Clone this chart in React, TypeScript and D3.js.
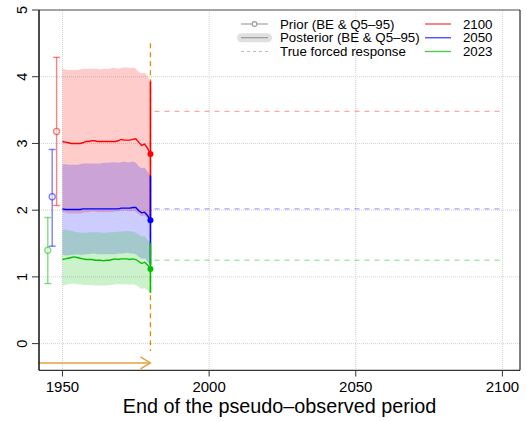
import React from 'react'
import * as d3 from 'd3'

// pseudo-observation end years
const years = [1950, 1951, 1952, 1953, 1954, 1955, 1956, 1957, 1958, 1959, 1960, 1961, 1962, 1963, 1964, 1965,
  1966, 1967, 1968, 1969, 1970, 1971, 1972, 1973, 1974, 1975, 1976, 1977, 1978, 1979, 1980]

const red_mid = [3.03, 3.02, 3.01, 3.00, 3.00, 3.00, 3.00, 3.01, 3.03, 3.03, 3.04, 3.04, 3.03, 3.03, 3.03, 3.03,
  3.03, 3.03, 3.03, 3.04, 3.06, 3.05, 3.05, 3.05, 3.06, 3.07, 3.02, 2.97, 2.99, 2.93, 2.84]
const red_hi = [4.12, 4.11, 4.10, 4.10, 4.10, 4.10, 4.11, 4.12, 4.12, 4.12, 4.12, 4.12, 4.12, 4.11, 4.12, 4.12,
  4.12, 4.13, 4.13, 4.12, 4.13, 4.14, 4.14, 4.13, 4.14, 4.12, 4.07, 4.05, 4.06, 4.01, 3.93]
const red_lo = [1.97, 1.96, 1.95, 1.95, 1.95, 1.95, 1.95, 1.96, 1.97, 1.97, 1.98, 1.98, 1.97, 1.97, 1.97, 1.97,
  1.97, 1.97, 1.98, 1.98, 1.99, 1.99, 1.99, 1.98, 1.99, 1.98, 1.94, 1.91, 1.92, 1.87, 1.80]

const blue_mid = [2.02, 2.01, 2.01, 2.01, 2.01, 2.01, 2.01, 2.02, 2.02, 2.02, 2.02, 2.02, 2.02, 2.02, 2.02, 2.02,
  2.02, 2.02, 2.02, 2.02, 2.03, 2.03, 2.03, 2.03, 2.04, 2.04, 1.99, 1.96, 1.97, 1.92, 1.85]
const blue_hi = [2.69, 2.69, 2.68, 2.68, 2.68, 2.68, 2.69, 2.70, 2.70, 2.70, 2.70, 2.70, 2.70, 2.70, 2.71, 2.71,
  2.71, 2.72, 2.72, 2.71, 2.72, 2.73, 2.72, 2.72, 2.73, 2.71, 2.66, 2.63, 2.64, 2.58, 2.52]
const blue_lo = [1.33, 1.32, 1.32, 1.33, 1.33, 1.34, 1.33, 1.33, 1.34, 1.34, 1.35, 1.35, 1.34, 1.34, 1.34, 1.34,
  1.34, 1.34, 1.34, 1.35, 1.35, 1.35, 1.36, 1.35, 1.35, 1.34, 1.30, 1.27, 1.28, 1.24, 1.18]

const green_mid = [1.26, 1.27, 1.28, 1.29, 1.30, 1.29, 1.28, 1.27, 1.26, 1.26, 1.26, 1.25, 1.25, 1.25, 1.24, 1.25,
  1.25, 1.26, 1.27, 1.26, 1.27, 1.27, 1.27, 1.26, 1.27, 1.26, 1.23, 1.20, 1.22, 1.18, 1.12]
const green_hi = [1.70, 1.71, 1.70, 1.69, 1.68, 1.67, 1.66, 1.66, 1.66, 1.67, 1.67, 1.67, 1.67, 1.66, 1.66, 1.66,
  1.67, 1.67, 1.67, 1.68, 1.68, 1.68, 1.69, 1.68, 1.68, 1.66, 1.63, 1.60, 1.61, 1.56, 1.51]
const green_lo = [0.87, 0.88, 0.89, 0.90, 0.90, 0.89, 0.89, 0.88, 0.88, 0.88, 0.88, 0.87, 0.87, 0.87, 0.87, 0.87,
  0.88, 0.88, 0.89, 0.89, 0.89, 0.89, 0.89, 0.88, 0.89, 0.88, 0.85, 0.82, 0.83, 0.80, 0.76]

// prior: [x position, best estimate, q5, q95]
const priorYears = [1948, 1946.5, 1945]
const prior_be = [3.18, 2.20, 1.40]
const prior_lo = [2.07, 1.46, 0.90]
const prior_hi = [4.29, 2.91, 1.89]

const trueResp = [3.48, 2.02, 1.25]
const horizons = ['2100', '2050', '2023']
const colors = ['#ff0000', '#0000ff', '#00c000']

const xTicks = [1950, 2000, 2050, 2100]
const yTicks = [0, 1, 2, 3, 4, 5]
const obsEnd = 1980
const obsStart = 1942

const W = 527, H = 421
const font = 'Liberation Sans, Arial, Helvetica, sans-serif'

const App = () => {
  const x = d3.scaleLinear().domain([1942, 2106]).range([39, 520])
  const y = d3.scaleLinear().domain([-0.4, 5]).range([370.3, 10])

  const series = [
    { mid: red_mid, hi: red_hi, lo: red_lo },
    { mid: blue_mid, hi: blue_hi, lo: blue_lo },
    { mid: green_mid, hi: green_hi, lo: green_lo },
  ]

  const area = (hi, lo) => d3.area<number>()
    .x(d => x(d))
    .y0((d, i) => y(lo[i]))
    .y1((d, i) => y(hi[i]))(years)
  const line = vals => d3.line<number>()
    .x(d => x(d))
    .y((d, i) => y(vals[i]))(years)

  const last = years.length - 1
  const xe = x(obsEnd)
  const ay = y(-0.29)

  return (
    <svg width={W} height={H} style={{ position: 'absolute', left: 0, top: 0, background: '#fff' }}
      fontFamily={font}>
      {/* grid */}
      {yTicks.map(t => (
        <line key={'gy' + t} x1={39} x2={520} y1={y(t)} y2={y(t)} stroke="#d3d3d3" strokeDasharray="1,1" />
      ))}
      {xTicks.map(t => (
        <line key={'gx' + t} x1={x(t)} x2={x(t)} y1={10} y2={370} stroke="#d3d3d3" strokeDasharray="1,1" />
      ))}

      {/* posterior ribbons */}
      {series.map((s, i) => (
        <path key={'rib' + i} d={area(s.hi, s.lo)} fill={colors[i]} fillOpacity={0.2} />
      ))}

      {/* true forced response */}
      {trueResp.map((v, i) => (
        <line key={'tr' + i} x1={xe + 4} x2={x(2100)} y1={y(v)} y2={y(v)} stroke={colors[i]}
          strokeOpacity={0.35} strokeWidth={1.4} strokeDasharray="5,5" />
      ))}

      {/* observation period marker */}
      <line x1={xe} x2={xe} y1={y(4.5)} y2={y(-0.11)} stroke="#e08a00" strokeWidth={1.3} strokeDasharray="5,4" />
      <line x1={x(obsStart)} x2={xe} y1={ay} y2={ay} stroke="#e6a040" strokeWidth={1.4} />
      <polyline points={`${xe - 10},${ay - 6} ${xe},${ay} ${xe - 10},${ay + 6}`} fill="none" stroke="#e6a040" strokeWidth={1.4} />

      {/* posterior BE lines, final intervals */}
      {series.map((s, i) => (
        <g key={'post' + i}>
          <path d={line(s.mid)} fill="none" stroke={colors[i]} strokeWidth={1.4} />
          <line x1={xe} x2={xe} y1={y(s.lo[last])} y2={y(s.hi[last])} stroke={colors[i]} strokeWidth={1.6} />
        </g>
      ))}
      {series.map((s, i) => (
        <circle key={'pt' + i} cx={xe} cy={y(s.mid[last])} r={3} fill={colors[i]} />
      ))}

      {/* priors */}
      {priorYears.map((py, i) => {
        const px = x(py)
        return (
          <g key={'pr' + i} stroke={colors[i]} strokeOpacity={0.5} strokeWidth={1.4} fill="none">
            <line x1={px} x2={px} y1={y(prior_lo[i])} y2={y(prior_hi[i])} />
            <line x1={px - 3.5} x2={px + 3.5} y1={y(prior_lo[i])} y2={y(prior_lo[i])} />
            <line x1={px - 3.5} x2={px + 3.5} y1={y(prior_hi[i])} y2={y(prior_hi[i])} />
            <circle cx={px} cy={y(prior_be[i])} r={3} fill="#fff" fillOpacity={0.6} />
          </g>
        )
      })}

      {/* box and axes */}
      <line x1={39} x2={520} y1={10} y2={10} stroke="#555" />
      <line x1={520} x2={520} y1={10} y2={370.3} stroke="#000" />
      <line x1={39} x2={520} y1={370.3} y2={370.3} stroke="#000" />
      <line x1={39} x2={39} y1={10} y2={370.3} stroke="#000" strokeWidth={1.4} />
      {yTicks.map(t => (
        <g key={'yt' + t}>
          <line x1={32} x2={39} y1={y(t)} y2={y(t)} stroke="#333" />
          <text transform={`translate(27,${y(t)}) rotate(-90)`} textAnchor="middle" fontSize={14.5} fill="#000">{t}</text>
        </g>
      ))}
      {xTicks.map(t => (
        <g key={'xt' + t}>
          <line x1={x(t)} x2={x(t)} y1={370.3} y2={376.5} stroke="#333" />
          <text x={x(t)} y={392.3} textAnchor="middle" fontSize={15} fill="#000">{t}</text>
        </g>
      ))}
      <text x={279.5} y={413.3} textAnchor="middle" fontSize={19.8} fill="#000">End of the pseudo–observed period</text>

      {/* legend */}
      <g fontSize={13.3} fill="#000">
        <line x1={241} x2={268} y1={24} y2={24} stroke="#999" strokeWidth={1.1} />
        <circle cx={254.5} cy={24} r={2.4} fill="#fff" stroke="#999" strokeWidth={1.1} />
        <line x1={241.5} x2={267.5} y1={37.7} y2={37.7} stroke="#e0e0e0" strokeWidth={9} strokeLinecap="round" />
        <line x1={241} x2={268} y1={37.7} y2={37.7} stroke="#999" strokeWidth={1.2} />
        <line x1={241} x2={268} y1={51.5} y2={51.5} stroke="#bbb" strokeWidth={1.1} strokeDasharray="3,3" />
        <text x={280} y={28.7}>Prior (BE &amp; Q5–95)</text>
        <text x={280} y={42.4}>Posterior (BE &amp; Q5–95)</text>
        <text x={280} y={56.2}>True forced response</text>
        {horizons.map((h, i) => (
          <g key={'lg' + h}>
            <line x1={425} x2={451} y1={24 + i * 13.75} y2={24 + i * 13.75} stroke={colors[i]} strokeOpacity={0.75} strokeWidth={1.3} />
            <text x={492.5} y={28.7 + i * 13.75} textAnchor="end">{h}</text>
          </g>
        ))}
      </g>
    </svg>
  )
}

export default App
